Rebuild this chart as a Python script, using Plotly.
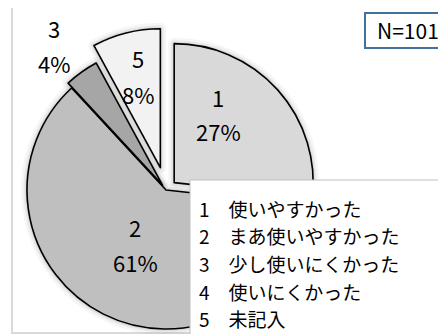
import math
import plotly.graph_objects as go

# ---------------- data ----------------
categories = ["1", "2", "3", "4", "5"]
legend_labels = ["使いやすかった", "まあ使いやすかった", "少し使いにくかった", "使いにくかった", "未記入"]
counts = [27, 62, 4, 0, 8]
n_total = 101

# ---------------- style / layout ----------------
W, H = 446, 334
OFF = 8  # page body margin compensation
FONT = "Noto Sans CJK JP"
fill_colors = ["#d9d9d9", "#bfbfbf", "#a6a6a6", "#7f7f7f", "#f2f2f2"]
explode_px = [11, 0, 6, 0, 23]          # slice explosion (pixels)
CX, CY, R = 166, 190, 139               # pie centre and radius (pixels)
# label positions (pixels): (x, y of number, y of percent)
label_pos = {0: (218, 97, 131), 1: (135, 227, 262), 2: (54, 28, 63), 4: (138, 58, 94)}
legend_y0, legend_dy = 208.3, 27.6
shadow_layers = [(12, "rgba(0,0,0,0.035)"), (7, "rgba(0,0,0,0.05)"), (3.5, "rgba(0,0,0,0.07)")]


def px(x):
    return (x - OFF) / W


def py(y):
    return 1 - (y - OFF) / H


idx = [i for i, v in enumerate(counts) if v > 0]
vals = [counts[i] for i in idx]
total = sum(vals)

# vertex (exploded centre) for each slice
vertices = {}
cum = 0
for k, i in enumerate(idx):
    start = cum / total * 360
    cum += vals[k]
    end = cum / total * 360
    mid = math.radians((start + end) / 2)
    vertices[i] = (CX + explode_px[i] * math.sin(mid), CY - explode_px[i] * math.cos(mid))


def slice_trace(i, fill, line_color, line_width):
    vx, vy = vertices[i]
    return go.Pie(
        labels=[categories[j] for j in idx],
        values=vals,
        sort=False,
        direction="clockwise",
        rotation=0,
        marker=dict(
            colors=[fill if j == i else "rgba(0,0,0,0)" for j in idx],
            line=dict(color=[line_color if j == i else "rgba(0,0,0,0)" for j in idx],
                      width=[line_width if j == i else 0 for j in idx]),
        ),
        textinfo="none",
        hoverinfo="skip",
        showlegend=False,
        domain=dict(x=[px(vx - R), px(vx + R)], y=[py(vy + R), py(vy - R)]),
    )


fig = go.Figure()
# soft shadow halo
for lw, col in shadow_layers:
    for i in idx:
        fig.add_trace(slice_trace(i, "rgba(0,0,0,0)", col, lw))
# slices
for i in idx:
    fig.add_trace(slice_trace(i, fill_colors[i], "#000000", 1.6))

annotations = []
for i in idx:
    x, y1, y2 = label_pos[i]
    pct = round(counts[i] / n_total * 100)
    annotations.append(dict(x=px(x), y=py(y1), xref="paper", yref="paper", text=categories[i],
                            showarrow=False, xanchor="center", yanchor="middle",
                            font=dict(family=FONT, size=22, color="#000000")))
    annotations.append(dict(x=px(x), y=py(y2), xref="paper", yref="paper", text=f"{pct}%",
                            showarrow=False, xanchor="center", yanchor="middle",
                            font=dict(family=FONT, size=22, color="#000000")))

for k, (c, l) in enumerate(zip(categories, legend_labels)):
    annotations.append(dict(x=px(197), y=py(legend_y0 + k * legend_dy), xref="paper", yref="paper",
                            text=f"{c}　{l}", showarrow=False, xanchor="left", yanchor="middle",
                            align="left", font=dict(family=FONT, size=19, color="#000000")))

annotations.append(dict(x=px(408), y=py(30), xref="paper", yref="paper", text=f"N={n_total}",
                        showarrow=False, xanchor="center", yanchor="middle",
                        font=dict(family=FONT, size=21, color="#000000")))

shapes = [
    # outer frame
    dict(type="rect", xref="paper", yref="paper", x0=px(12), x1=px(470), y0=py(333), y1=py(5),
         line=dict(color="#d9d9d9", width=2), fillcolor="rgba(0,0,0,0)", layer="below"),
    # legend box
    dict(type="rect", xref="paper", yref="paper", x0=px(190), x1=px(470), y0=py(360), y1=py(180),
         line=dict(color="#bfbfbf", width=1), fillcolor="#ffffff", layer="above"),
    # N box
    dict(type="rect", xref="paper", yref="paper", x0=px(365), x1=px(470), y0=py(48), y1=py(13),
         line=dict(color="#41719c", width=2), fillcolor="#ffffff", layer="above"),
]

fig.update_layout(
    width=W, height=H,
    margin=dict(l=0, r=0, t=0, b=0),
    paper_bgcolor="#ffffff",
    plot_bgcolor="#ffffff",
    showlegend=False,
    annotations=annotations,
    shapes=shapes,
)

fig.write_html("out.html")
